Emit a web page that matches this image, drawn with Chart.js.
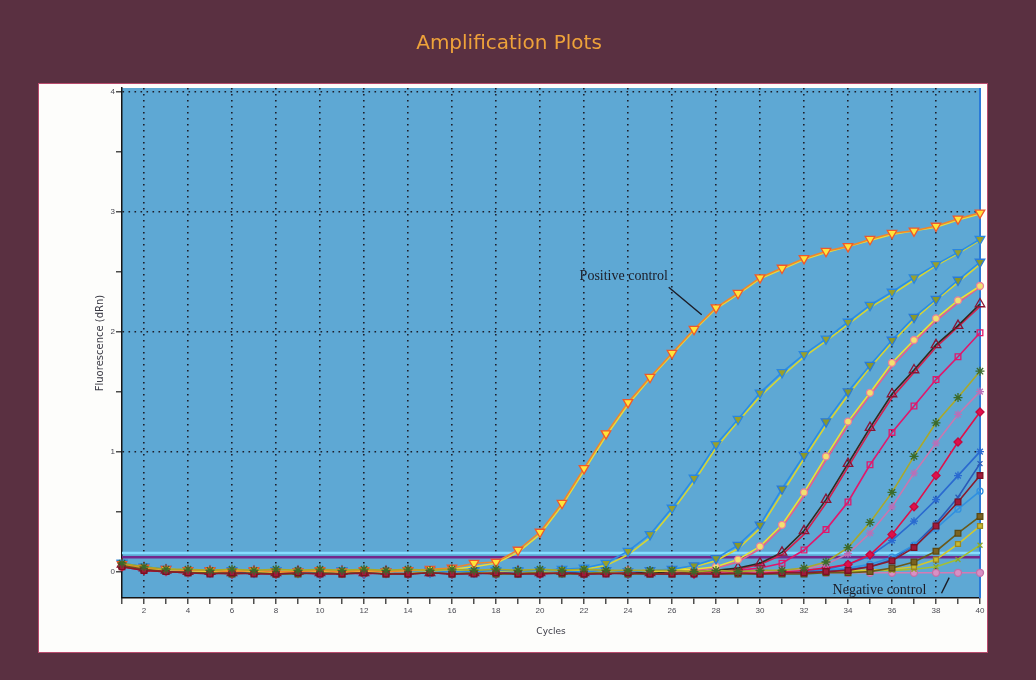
<!DOCTYPE html>
<html>
<head>
<meta charset="utf-8">
<title>Amplification Plots</title>
<script src="https://cdn.jsdelivr.net/npm/chart.js@4/dist/chart.umd.min.js"></script>
<style>
  html, body { margin: 0; padding: 0; background: #5a3041; overflow: hidden; }
  canvas { display: block; }
</style>
</head>
<body>
<canvas id="plot" width="1036" height="680"></canvas>
<script>
// Cycle numbers on the x axis
const cycles = [1,2,3,4,5,6,7,8,9,10,11,12,13,14,15,16,17,18,19,20,21,22,23,24,25,26,27,28,29,30,31,32,33,34,35,36,37,38,39,40];
const xLabelCycles = [2,4,6,8,10,12,14,16,18,20,22,24,26,28,30,32,34,36,38,40];
const yTickValues = [0,0.5,1,1.5,2,2.5,3,3.5,4];
const yTickLabels = ['0','','1','','2','','3','','4'];

// Fluorescence (dRn) per cycle, one array per well
const positiveA = [0.06,0.03,0.02,0.01,0.01,0.00,0.01,0.00,0.00,0.01, 0.00,0.01,0.00,0.01,0.02,0.03,0.07,0.08,0.18,0.33, 0.57,0.86,1.15,1.41,1.62,1.82,2.02,2.20,2.32,2.45, 2.53,2.61,2.67,2.71,2.77,2.82,2.84,2.88,2.94,2.99];
const positiveB = [0.05,0.03,0.02,0.01,0.00,0.01,0.00,0.00,0.01,0.00, 0.01,0.00,0.00,0.01,0.01,0.02,0.04,0.07,0.16,0.31, 0.55,0.84,1.13,1.39,1.61,1.81,2.01,2.19,2.31,2.44, 2.52,2.60,2.66,2.71,2.76,2.81,2.84,2.87,2.93,2.98];
const sample2A = [0.07,0.04,0.02,0.01,0.01,0.00,0.00,0.01,0.00,0.00, 0.01,0.00,0.00,0.00,0.01,0.00,0.00,0.01,0.01,0.01, 0.02,0.03,0.07,0.17,0.31,0.53,0.78,1.06,1.27,1.49, 1.66,1.81,1.94,2.08,2.22,2.33,2.45,2.56,2.66,2.77];
const sample2B = [0.06,0.03,0.02,0.01,0.00,0.01,0.00,0.00,0.01,0.00, 0.00,0.01,0.00,0.00,0.00,0.01,0.00,0.00,0.01,0.01, 0.01,0.02,0.05,0.14,0.28,0.50,0.75,1.03,1.25,1.46, 1.63,1.79,1.92,2.06,2.20,2.31,2.43,2.55,2.65,2.76];
const sample3A = [0.07,0.04,0.02,0.01,0.00,0.01,0.00,0.01,0.00,0.00, 0.01,0.00,0.00,0.01,0.00,0.00,0.01,0.00,0.00,0.01, 0.00,0.00,0.01,0.00,0.01,0.02,0.05,0.11,0.22,0.39, 0.69,0.97,1.25,1.50,1.72,1.93,2.12,2.27,2.43,2.58];
const sample3B = [0.06,0.03,0.01,0.01,0.00,0.00,0.01,0.00,0.00,0.01, 0.00,0.00,0.01,0.00,0.00,0.01,0.00,0.00,0.01,0.00, 0.00,0.01,0.00,0.00,0.01,0.01,0.04,0.09,0.19,0.36, 0.65,0.94,1.22,1.47,1.70,1.91,2.10,2.26,2.41,2.56];
const sample4A = [0.06,0.03,0.02,0.01,0.01,0.00,0.01,0.00,0.00,0.00, 0.01,0.00,0.00,0.01,0.00,0.00,0.00,0.01,0.00,0.00, 0.01,0.00,0.00,0.01,0.00,0.01,0.02,0.04,0.10,0.21, 0.39,0.66,0.96,1.25,1.49,1.74,1.93,2.11,2.26,2.38];
const sample4B = [0.05,0.03,0.01,0.01,0.00,0.01,0.00,0.00,0.01,0.00, 0.00,0.01,0.00,0.00,0.01,0.00,0.00,0.00,0.01,0.00, 0.00,0.01,0.00,0.00,0.01,0.00,0.01,0.03,0.08,0.19, 0.37,0.63,0.93,1.22,1.47,1.71,1.91,2.09,2.24,2.37];
const sample5A = [0.06,0.03,0.01,0.00,0.00,-0.01,0.00,-0.01,0.00,-0.01, 0.00,-0.01,0.00,0.00,-0.01,0.00,-0.01,0.00,0.00,-0.01, 0.00,-0.01,0.00,0.00,-0.01,0.00,0.00,0.01,0.03,0.07, 0.16,0.34,0.60,0.90,1.20,1.48,1.68,1.89,2.05,2.23];
const sample5B = [0.05,0.02,0.01,0.00,-0.01,0.00,-0.01,0.00,-0.01,0.00, -0.01,0.00,0.00,-0.01,0.00,-0.01,0.00,0.00,-0.01,0.00, -0.01,0.00,0.00,-0.01,0.00,0.00,0.00,0.00,0.02,0.06, 0.14,0.31,0.57,0.87,1.17,1.45,1.66,1.87,2.04,2.21];
const sample6 = [0.05,0.02,0.01,0.00,-0.01,0.00,-0.01,-0.01,0.00,-0.01, 0.00,-0.01,-0.01,0.00,-0.01,0.00,-0.01,-0.01,0.00,-0.01, 0.00,-0.01,-0.01,0.00,-0.01,0.00,-0.01,0.00,0.01,0.03, 0.07,0.18,0.35,0.58,0.89,1.16,1.38,1.60,1.79,1.99];
const sample7 = [0.07,0.04,0.02,0.02,0.01,0.02,0.01,0.02,0.01,0.02, 0.01,0.02,0.01,0.02,0.01,0.02,0.01,0.02,0.01,0.02, 0.01,0.02,0.01,0.01,0.01,0.01,0.00,0.01,0.00,0.01, 0.01,0.03,0.08,0.20,0.41,0.66,0.96,1.24,1.45,1.67];
const sample8 = [0.05,0.02,0.01,0.00,0.00,0.01,0.00,0.00,0.00,0.01, 0.00,0.00,0.01,0.00,0.00,0.00,0.01,0.00,0.00,0.00, 0.01,0.00,0.00,0.00,0.01,0.00,0.00,0.00,0.00,0.00, 0.01,0.02,0.06,0.15,0.32,0.54,0.82,1.07,1.31,1.50];
const sample9 = [0.04,0.01,0.00,-0.01,-0.01,-0.02,-0.01,-0.02,-0.01,-0.02, -0.01,-0.02,-0.01,-0.02,-0.01,-0.02,-0.01,-0.02,-0.01,-0.02, -0.01,-0.02,-0.01,-0.02,-0.01,-0.01,-0.02,-0.01,-0.01,-0.01, 0.00,0.01,0.03,0.06,0.14,0.31,0.54,0.80,1.08,1.33];
const sample10 = [0.06,0.03,0.01,0.01,0.00,0.00,0.01,0.00,0.00,0.01, 0.00,0.00,0.00,0.01,0.00,0.00,0.00,0.00,0.01,0.00, 0.00,0.00,0.01,0.00,0.00,0.00,0.00,0.01,0.00,0.00, 0.00,0.01,0.02,0.06,0.13,0.26,0.42,0.60,0.80,1.00];
const sample11 = [0.06,0.03,0.02,0.01,0.01,0.00,0.01,0.00,0.01,0.00, 0.01,0.00,0.00,0.01,0.00,0.01,0.00,0.00,0.01,0.00, 0.00,0.01,0.00,0.00,0.01,0.00,0.00,0.00,0.01,0.00, 0.00,0.01,0.01,0.03,0.06,0.12,0.22,0.36,0.52,0.67];
const sample12 = [0.04,0.01,0.00,-0.01,-0.02,-0.01,-0.02,-0.02,-0.01,-0.02, -0.02,-0.01,-0.02,-0.02,-0.01,-0.02,-0.02,-0.01,-0.02,-0.02, -0.01,-0.02,-0.02,-0.01,-0.02,-0.02,-0.02,-0.02,-0.01,-0.02, -0.01,-0.01,0.00,0.01,0.04,0.09,0.20,0.38,0.58,0.80];
const sample13 = [0.05,0.02,0.00,-0.01,-0.01,-0.02,-0.01,-0.02,-0.02,-0.01, -0.02,-0.01,-0.02,-0.02,-0.01,-0.02,-0.01,-0.02,-0.02,-0.01, -0.02,-0.02,-0.01,-0.02,-0.02,-0.02,-0.01,-0.02,-0.02,-0.02, -0.02,-0.02,-0.01,-0.01,0.00,0.03,0.08,0.17,0.32,0.46];
const sample14 = [0.06,0.03,0.01,0.01,0.00,0.01,0.00,0.00,0.01,0.00, 0.00,0.01,0.00,0.00,0.00,0.01,0.00,0.00,0.01,0.00, 0.00,0.00,0.01,0.00,0.00,0.00,0.01,0.00,0.00,0.00, 0.00,0.00,0.00,0.01,0.01,0.02,0.04,0.10,0.23,0.38];
const sample15 = [0.06,0.03,0.02,0.01,0.01,0.01,0.00,0.01,0.01,0.00, 0.01,0.01,0.00,0.01,0.01,0.00,0.01,0.01,0.00,0.01, 0.01,0.00,0.01,0.00,0.01,0.00,0.00,0.01,0.00,0.00, 0.00,0.00,0.00,0.00,0.01,0.01,0.02,0.04,0.10,0.22];
const sample16 = [0.06,0.03,0.01,0.00,0.00,0.00,0.01,0.00,0.00,0.00, 0.00,0.01,0.00,0.00,0.00,0.00,0.00,0.01,0.00,0.00, 0.00,0.00,0.00,0.01,0.00,0.00,0.00,0.00,0.00,0.01, 0.00,0.00,0.01,0.02,0.04,0.10,0.22,0.40,0.62,0.90];
const negative = [0.04,0.02,0.00,-0.01,-0.01,-0.01,-0.01,-0.01,-0.01,-0.01, -0.01,-0.01,-0.01,-0.01,-0.01,-0.01,-0.01,-0.01,-0.01,-0.01, -0.01,-0.01,-0.01,-0.01,-0.01,-0.01,-0.01,-0.01,-0.01,-0.01, -0.01,-0.01,-0.01,-0.01,-0.01,-0.01,-0.01,-0.01,-0.01,-0.01];

// Threshold levels (dRn)
const thresholdLevels = [0.155, 0.12];

// Drawing style for each trace; lower "order" is painted on top
const traces = [
  { name: 'Positive control', values: positiveA, line: '#f2862a', shape: 'triangle', rot: 180, fill: '#ffe43a', edge: '#f0582a', r: 5.5, order: 3 },
  { name: 'Positive control (rep)', values: positiveB, line: '#e8dc3a', shape: false, order: 4 },
  { name: 'Sample 2', values: sample2A, line: '#2a8ee6', shape: 'triangle', rot: 180, fill: '#9aa02a', edge: '#2a86e0', r: 5.5, order: 5 },
  { name: 'Sample 2 (rep)', values: sample2B, line: '#d6d632', shape: false, order: 6 },
  { name: 'Sample 3', values: sample3A, line: '#2a8ee6', shape: 'triangle', rot: 180, fill: '#8a9828', edge: '#2a7ad8', r: 5.5, order: 7 },
  { name: 'Sample 3 (rep)', values: sample3B, line: '#d8d432', shape: false, order: 8 },
  { name: 'Sample 4', values: sample4A, line: '#ece232', shape: 'circle', fill: '#f2e070', edge: '#e8809a', r: 3.5, order: 9 },
  { name: 'Sample 4 (rep)', values: sample4B, line: '#e4608e', shape: false, order: 10 },
  { name: 'Sample 5', values: sample5A, line: '#2e2a1e', shape: 'triangle', rot: 0, fill: 'rgba(0,0,0,0)', edge: '#8a1434', r: 5.5, order: 11 },
  { name: 'Sample 5 (rep)', values: sample5B, line: '#d42050', shape: false, order: 12 },
  { name: 'Sample 6', values: sample6, line: '#e0186c', shape: 'rect', fill: 'rgba(0,0,0,0)', edge: '#e0186c', r: 4, order: 13 },
  { name: 'Sample 8', values: sample8, line: '#c878b0', shape: 'star', fill: '#c87cc0', edge: '#b870b8', r: 4, order: 14 },
  { name: 'Sample 9', values: sample9, line: '#e0104a', shape: 'rectRot', fill: '#e0104a', edge: '#c00a40', r: 4, order: 15 },
  { name: 'Sample 10', values: sample10, line: '#2a6ad0', shape: 'star', fill: '#2a6ad0', edge: '#2a6ad0', r: 4, order: 16 },
  { name: 'Sample 11', values: sample11, line: '#3090e0', shape: 'circle', fill: 'rgba(0,0,0,0)', edge: '#3090e0', r: 3, order: 17 },
  { name: 'Sample 16', values: sample16, line: '#2a5ab8', shape: 'crossRot', fill: '#2a5ab8', edge: '#2a5ab8', r: 3.5, order: 18 },
  { name: 'Sample 14', values: sample14, line: '#d4c82a', shape: 'rect', fill: '#c8b830', edge: '#9a8a20', r: 3.5, order: 19 },
  { name: 'Sample 15', values: sample15, line: '#a4c030', shape: 'crossRot', fill: '#a4c030', edge: '#8aa828', r: 3.5, order: 20 },
  { name: 'Negative control', values: negative, line: '#d67ab4', shape: 'circle', fill: '#d890c4', edge: '#c070a8', r: 3.5, order: 21 },
  { name: 'Sample 13', values: sample13, line: '#6a5a1a', shape: 'rect', fill: '#7a6220', edge: '#5a4a14', r: 4, order: 2 },
  { name: 'Sample 12', values: sample12, line: '#8a1a2c', shape: 'rect', fill: '#a01a3a', edge: '#7a1024', r: 4, order: 1 },
  { name: 'Sample 7', values: sample7, line: '#aaa82a', shape: 'star', fill: '#2e5a22', edge: '#3a6a2a', r: 4.5, order: 0 }
];
const thresholdColors = ['#86dcff', '#74288c'];

// Text callouts, placed in data coordinates (cycle, dRn)
const callouts = [
  { text: 'Positive control', at: [21.8, 2.43], from: [25.85, 2.37], to: [27.35, 2.14] },
  { text: 'Negative control', at: [33.3, -0.19], from: [38.25, -0.18], to: [38.6, -0.05] }
];

const toPoints = (vals) => vals.map((v, i) => ({ x: cycles[i], y: v }));

const datasets = traces.map(t => ({
  label: t.name,
  data: toPoints(t.values),
  borderColor: t.line,
  borderWidth: 1.6,
  pointStyle: t.shape,
  pointRotation: t.rot || 0,
  pointRadius: t.shape ? t.r : 0,
  pointBackgroundColor: t.fill,
  pointBorderColor: t.edge,
  pointBorderWidth: 1.3,
  tension: 0,
  order: t.order,
  clip: 8
}));

thresholdLevels.forEach((lvl, i) => {
  datasets.push({
    label: 'Threshold ' + (i + 1),
    data: [{ x: cycles[0], y: lvl }, { x: cycles[cycles.length - 1], y: lvl }],
    borderColor: thresholdColors[i],
    borderWidth: 2.4,
    pointRadius: 0,
    order: 50 + i,
    clip: 0
  });
});

// Maroon frame, white panel and blue plotting area
const framePlugin = {
  id: 'frame',
  beforeDraw(chart) {
    const { ctx, chartArea: a, width, height } = chart;
    ctx.save();
    ctx.fillStyle = '#5a3041';
    ctx.fillRect(0, 0, width, height);
    ctx.fillStyle = '#fdfdfb';
    ctx.fillRect(38, 83, 950, 570);
    ctx.strokeStyle = '#b84a6c';
    ctx.lineWidth = 1;
    ctx.strokeRect(38.5, 83.5, 949, 569);
    ctx.fillStyle = '#5ea8d4';
    ctx.fillRect(a.left, a.top, a.right - a.left, a.bottom - a.top);
    ctx.restore();
  },
  beforeDatasetsDraw(chart) {
    const { ctx, chartArea: a } = chart;
    ctx.save();
    ctx.strokeStyle = '#2a7ad8';
    ctx.lineWidth = 2;
    ctx.beginPath();
    ctx.moveTo(a.right, a.top);
    ctx.lineTo(a.right, a.bottom);
    ctx.stroke();
    ctx.restore();
  }
};

// Callout labels with their leader lines
const calloutPlugin = {
  id: 'callouts',
  afterDatasetsDraw(chart) {
    const { ctx, scales: { x, y } } = chart;
    ctx.save();
    ctx.fillStyle = '#1c1c26';
    ctx.strokeStyle = '#1c1c26';
    ctx.font = '14px "Liberation Serif", serif';
    ctx.textBaseline = 'alphabetic';
    ctx.lineWidth = 1.4;
    callouts.forEach(c => {
      ctx.fillText(c.text, x.getPixelForValue(c.at[0]), y.getPixelForValue(c.at[1]));
      ctx.beginPath();
      ctx.moveTo(x.getPixelForValue(c.from[0]), y.getPixelForValue(c.from[1]));
      ctx.lineTo(x.getPixelForValue(c.to[0]), y.getPixelForValue(c.to[1]));
      ctx.stroke();
    });
    ctx.restore();
  }
};

const gridDots = '#1d1d28';

new Chart(document.getElementById('plot'), {
  type: 'line',
  data: { datasets },
  plugins: [framePlugin, calloutPlugin],
  options: {
    responsive: false,
    animation: false,
    devicePixelRatio: 1,
    layout: { padding: { left: 38, right: 56, top: 0, bottom: 36 } },
    plugins: {
      legend: { display: false },
      tooltip: { enabled: false },
      title: {
        display: true,
        text: 'Amplification Plots',
        color: '#eea23a',
        font: { family: '"DejaVu Sans", sans-serif', size: 20, weight: 'normal' },
        padding: { top: 32, bottom: 32 }
      }
    },
    scales: {
      x: {
        type: 'linear',
        min: 1,
        max: 40,
        afterBuildTicks: (s) => { s.ticks = cycles.map(v => ({ value: v })); },
        afterFit: (s) => { s.height = 46; },
        ticks: {
          autoSkip: false,
          maxRotation: 0,
          padding: 2,
          color: '#4a4a52',
          font: { family: '"Liberation Sans", sans-serif', size: 8 },
          callback: (v) => xLabelCycles.includes(v) ? String(v) : ''
        },
        grid: {
          color: (c) => (c.tick && xLabelCycles.includes(c.tick.value)) ? gridDots : 'rgba(0,0,0,0)',
          lineWidth: 1.6,
          tickColor: '#222',
          tickLength: 6,
          tickWidth: 1.2
        },
        border: { display: true, color: '#151515', width: 1.5, dash: [1.6, 4.4] },
        title: {
          display: true,
          text: 'Cycles',
          color: '#3a3a44',
          font: { family: '"DejaVu Sans", sans-serif', size: 9 },
          padding: { top: 0, bottom: 7 }
        }
      },
      y: {
        type: 'linear',
        min: -0.22,
        max: 4.03,
        afterBuildTicks: (s) => { s.ticks = yTickValues.map(v => ({ value: v })); },
        afterFit: (s) => { s.width = 84; },
        ticks: {
          padding: 1,
          color: '#4a4a52',
          font: { family: '"Liberation Sans", sans-serif', size: 8 },
          callback: (v) => yTickLabels[yTickValues.indexOf(v)]
        },
        grid: {
          color: (c) => (c.tick && Number.isInteger(c.tick.value) && c.tick.value > 0) ? gridDots : 'rgba(0,0,0,0)',
          lineWidth: 1.6,
          tickColor: '#222',
          tickLength: 6,
          tickWidth: 1.2
        },
        border: { display: true, color: '#151515', width: 1.5, dash: [1.6, 4.4] },
        title: {
          display: true,
          text: 'Fluorescence (dRn)',
          color: '#3a3a44',
          font: { family: '"DejaVu Sans", sans-serif', size: 10 },
          padding: { top: 56, bottom: 0 }
        }
      }
    }
  }
});
</script>
</body>
</html>
